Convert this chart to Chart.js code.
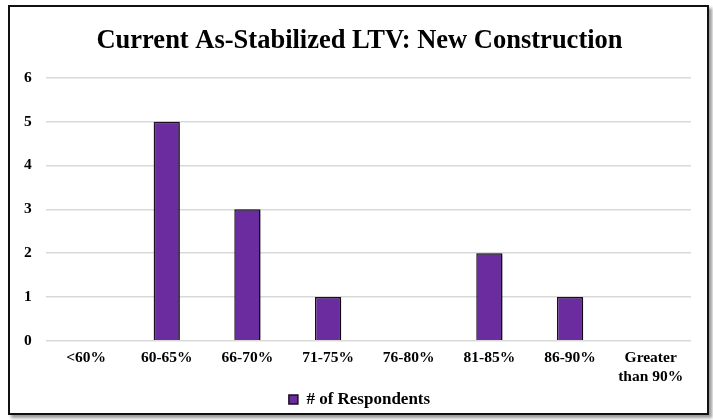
<!DOCTYPE html>
<html>
<head>
<meta charset="utf-8">
<script src="https://cdn.jsdelivr.net/npm/chart.js@4"></script>
<style>
  body { margin: 0; background: #fff; }
  #box {
    position: absolute; left: 8px; top: 5px; width: 697px; height: 406px;
    border: 2px solid #111; box-shadow: 3px 3px 3px #999; background: #fff;
  }
</style>
</head>
<body>
<div id="box"><canvas id="myChart" width="697" height="406"></canvas></div>
<script>
const categories = ['<60%', '60-65%', '66-70%', '71-75%', '76-80%', '81-85%', '86-90%', ['Greater', 'than 90%']];
const respondents = [0, 5, 3, 1, 0, 2, 1, 0];
const yTicks = [0, 1, 2, 3, 4, 5, 6];

// soft shadow to the right of each bar
const barShadow = {
    id: 'barShadow',
    beforeDatasetDraw(chart) {
        const ctx = chart.ctx;
        ctx.save();
        ctx.shadowColor = 'rgba(0,0,0,0.45)';
        ctx.shadowOffsetX = 3;
        ctx.shadowOffsetY = 1;
        ctx.shadowBlur = 3;
    },
    afterDatasetDraw(chart) {
        chart.ctx.restore();
    }
};

// title and legend sit centred on the whole box, not on the padded area
const centreBlocks = {
    id: 'centreBlocks',
    afterLayout(chart) {
        [chart.titleBlock, chart.legend].forEach(b => {
            if (b) { b.left += 9; b.right += 9; }
        });
        if (chart.legend) { chart.legend.top += 5; chart.legend.bottom += 5; }
    }
};

const serif = "'Liberation Serif', 'DejaVu Serif', serif";

const ctx = document.getElementById('myChart').getContext('2d');
const myChart = new Chart(ctx, {
    type: 'bar',
    data: {
        labels: categories,
        datasets: [{
            label: '# of Respondents',
            data: respondents,
            backgroundColor: '#6a2c9f',
            borderColor: '#1a1020',
            borderWidth: 1.5,
            barPercentage: 0.65,
            categoryPercentage: 0.5
        }]
    },
    options: {
        responsive: false,
        animation: false,
        layout: { padding: { left: 0, right: 16, top: 4, bottom: 0 } },
        plugins: {
            title: {
                display: true,
                text: 'Current As-Stabilized LTV: New Construction',
                color: '#000',
                font: { family: serif, size: 26.5, weight: 'bold' },
                padding: { top: 14, bottom: 21 }
            },
            legend: {
                position: 'bottom',
                labels: {
                    color: '#000',
                    boxWidth: 9,
                    boxHeight: 9,
                    padding: 0,
                    font: { family: serif, size: 17, weight: 'bold', lineHeight: 1 }
                }
            },
            tooltip: { enabled: false }
        },
        scales: {
            x: {
                grid: { display: false },
                border: { display: false },
                ticks: {
                    color: '#000',
                    maxRotation: 0,
                    padding: 0,
                    font: { family: serif, size: 15.5, weight: 'bold' }
                }
            },
            y: {
                min: 0,
                max: 6,
                afterBuildTicks: axis => { axis.ticks = yTicks.map(v => ({ value: v })); },
                grid: { color: '#d9d9d9', lineWidth: 1.5, drawTicks: false },
                border: { display: false },
                ticks: {
                    color: '#000',
                    padding: 14,
                    font: { family: serif, size: 15.5, weight: 'bold' }
                }
            }
        }
    },
    plugins: [barShadow, centreBlocks]
});
</script>
</body>
</html>
